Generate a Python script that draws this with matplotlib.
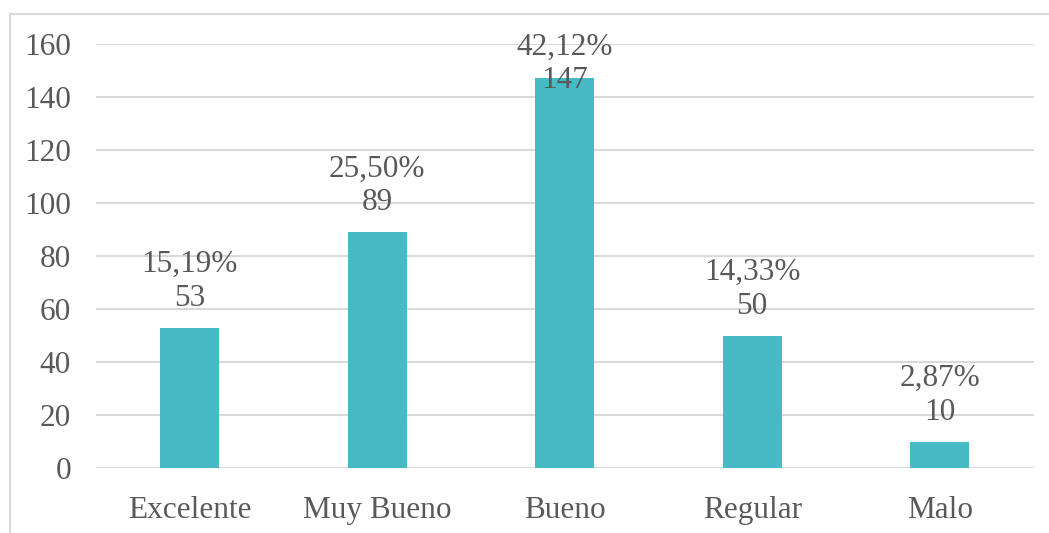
import matplotlib.pyplot as plt
from matplotlib.lines import Line2D

categories = ["Excelente", "Muy Bueno", "Bueno", "Regular", "Malo"]
counts = [53, 89, 147, 50, 10]
percents = ["15,19%", "25,50%", "42,12%", "14,33%", "2,87%"]

plt.rcParams['font.family'] = ['Liberation Serif', 'DejaVu Serif']
text_color = "#595959"
grid_color = "#d9d9d9"

fig = plt.figure(figsize=(10.49, 5.33), dpi=100)
ax = fig.add_axes([96 / 1049, 1 - 468 / 533, (1033.5 - 96) / 1049, 424 / 533])

x = range(len(categories))
ax.bar(x, counts, width=0.315, color="#46bbc6", zorder=3)

ax.set_xlim(-0.5, len(categories) - 0.5)
ax.set_ylim(0, 160)
ax.set_yticks(range(0, 161, 20))
ax.set_xticks(list(x))
ax.set_xticklabels(categories)
ax.tick_params(axis='both', length=0, labelsize=22.5, colors=text_color)
ax.tick_params(axis='y', pad=18)
ax.tick_params(axis='x', pad=20.5)
ax.grid(axis='y', color=grid_color, linewidth=1.5, zorder=0)
for s in ax.spines.values():
    s.set_visible(False)

# data labels: percent over count, pushed down when they hit the chart top
for i, (c, p) in enumerate(zip(counts, percents)):
    ax.text(i, min(c + 17.5, 152.5), p + "\n" + str(c), ha='center', va='center',
            fontsize=22.5, color=text_color, linespacing=1.22, zorder=4)

# chart area border (left and top visible)
fig.add_artist(Line2D([9.5 / 1049, 9.5 / 1049], [0, 1 - 14 / 533],
                      color=grid_color, linewidth=1.5, transform=fig.transFigure))
fig.add_artist(Line2D([9.5 / 1049, 1], [1 - 14 / 533, 1 - 14 / 533],
                      color=grid_color, linewidth=1.5, transform=fig.transFigure))

fig.savefig("out.png", dpi=100)
